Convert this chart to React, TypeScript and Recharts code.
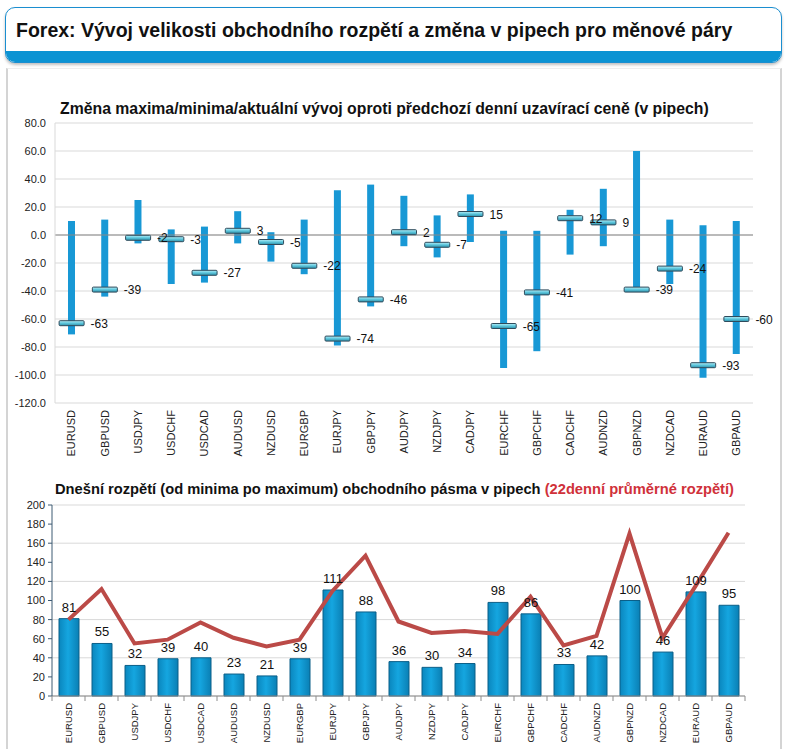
import React from "react";
import {
  ComposedChart,
  Bar,
  Scatter,
  Line,
  XAxis,
  YAxis,
  CartesianGrid,
  ReferenceLine,
  LabelList,
} from "recharts";

const pairs = [
  "EURUSD", "GBPUSD", "USDJPY", "USDCHF", "USDCAD", "AUDUSD", "NZDUSD",
  "EURGBP", "EURJPY", "GBPJPY", "AUDJPY", "NZDJPY", "CADJPY", "EURCHF",
  "GBPCHF", "CADCHF", "AUDNZD", "GBPNZD", "NZDCAD", "EURAUD", "GBPAUD",
];
// change vs previous close (pips)
const maxChange = [10, 11, 25, 4, 6, 17, 2, 11, 32, 36, 28, 14, 29, 3, 3, 18, 33, 60, 11, 7, 10];
const minChange = [-71, -44, -6, -35, -34, -6, -19, -28, -79, -51, -8, -16, -5, -95, -83, -14, -8, -39, -35, -102, -85];
const currentChange = [-63, -39, -2, -3, -27, 3, -5, -22, -74, -46, 2, -7, 15, -65, -41, 12, 9, -39, -24, -93, -60];
// today's range and 22-day average range (pips)
const todayRange = [81, 55, 32, 39, 40, 23, 21, 39, 111, 88, 36, 30, 34, 98, 86, 33, 42, 100, 46, 109, 95];
const avgRange = [80, 112, 55, 59, 77, 61, 52, 59, 110, 147, 78, 66, 68, 65, 104, 53, 63, 170, 61, 115, 171];

const changeTicks = [-120, -100, -80, -60, -40, -20, 0, 20, 40, 60, 80];
const rangeTicks = [0, 20, 40, 60, 80, 100, 120, 140, 160, 180, 200];

const changeData = pairs.map((p, i) => ({
  pair: p,
  range: [minChange[i], maxChange[i]],
  cur: currentChange[i],
}));
const rangeData = pairs.map((p, i) => ({
  pair: p,
  today: todayRange[i],
  avg: avgRange[i],
}));

const FONT = "'Liberation Sans', Arial, sans-serif";

const RotTick = (props: any) => {
  const { x, y, payload, fontSize, band, last, tickMarks } = props;
  return (
    <g>
      {tickMarks && (
        <line x1={x - band / 2} x2={x - band / 2} y1={y - 7} y2={y - 2} stroke="#8c8c8c" />
      )}
      {tickMarks && payload.index === last && (
        <line x1={x + band / 2} x2={x + band / 2} y1={y - 7} y2={y - 2} stroke="#8c8c8c" />
      )}
      <text
        x={x}
        y={y}
        transform={`rotate(-90, ${x}, ${y})`}
        textAnchor="end"
        dy="0.35em"
        fontSize={fontSize}
        fontFamily={FONT}
        fill="#222"
      >
        {payload.value}
      </text>
    </g>
  );
};

const Marker = (props: any) => {
  const { cx, cy } = props;
  if (cx == null || cy == null) return null;
  return (
    <rect
      x={cx - 12.5}
      y={cy - 2.5}
      width={25}
      height={5}
      rx={1}
      fill="url(#markGrad)"
      stroke="#2f4b5c"
      strokeWidth={1}
    />
  );
};

const MarkerLabel = (props: any) => {
  const { cx, cy, payload } = props;
  if (cx == null || cy == null) return null;
  return (
    <text x={cx + 19} y={cy} dy="0.38em" fontSize={12} fontFamily={FONT} fill="#111">
      {payload.cur}
    </text>
  );
};

export default function App() {
  return (
    <div style={{ position: "absolute", left: 0, top: 0, width: 788, height: 749, background: "#fff", fontFamily: FONT, overflow: "hidden" }}>
      {/* header box */}
      <div
        style={{
          position: "absolute",
          left: 5,
          top: 7,
          width: 775,
          height: 54,
          border: "1.5px solid #1a8ed0",
          borderRadius: 10,
          overflow: "hidden",
          background: "#fff",
          boxShadow: "0 2px 3px rgba(0,0,0,0.25)",
        }}
      >
        <div style={{ position: "absolute", left: 0, right: 0, bottom: 0, height: 11, background: "#0b93d3" }} />
        <div style={{ position: "absolute", left: 10, top: 11, fontSize: 19.5, fontWeight: "bold", color: "#111", whiteSpace: "nowrap" }}>
          Forex: Vývoj velikosti obchodního rozpětí a změna v pipech pro měnové páry
        </div>
      </div>
      {/* panel */}
      <div
        style={{
          position: "absolute",
          left: 6,
          top: 68,
          width: 772,
          height: 690,
          borderLeft: "2px solid #d4d4d4",
          borderRight: "2px solid #d4d4d4",
          borderTop: "1px solid #eeeeee",
        }}
      />
      <div style={{ position: "absolute", left: 60, top: 100, fontSize: 15.8, fontWeight: "bold", color: "#111", whiteSpace: "nowrap" }}>
        Změna maxima/minima/aktuální vývoj oproti předchozí denní uzavírací ceně (v pipech)
      </div>
      <div style={{ position: "absolute", left: 55, top: 481, fontSize: 14.7, fontWeight: "bold", color: "#111", whiteSpace: "nowrap" }}>
        Dnešní rozpětí (od minima po maximum) obchodního pásma v pipech{" "}
        <span style={{ color: "#d0313a" }}>(22denní průměrné rozpětí)</span>
      </div>

      <div style={{ position: "absolute", left: 0, top: 0 }}>
        <ComposedChart width={788} height={470} data={changeData} margin={{ top: 123, right: 35, left: 0, bottom: 0 }}>
          <defs>
            <linearGradient id="markGrad" x1="0" y1="0" x2="0" y2="1">
              <stop offset="0%" stopColor="#b8eef7" />
              <stop offset="50%" stopColor="#5cc6dc" />
              <stop offset="100%" stopColor="#2f8fa8" />
            </linearGradient>
          </defs>
          <CartesianGrid vertical={false} stroke="#d9d9d9" />
          <XAxis
            dataKey="pair"
            height={67}
            axisLine={false}
            tickLine={false}
            interval={0}
            tick={<RotTick fontSize={11} band={33.2} />}
            tickMargin={0}
            tickSize={7}
          />
          <YAxis
            width={55}
            domain={[-120, 80]}
            ticks={changeTicks}
            tickFormatter={(v: number) => v.toFixed(1)}
            axisLine={{ stroke: "#d9d9d9" }}
            tickLine={false}
            tickSize={6}
            tickMargin={3}
            tick={{ fontSize: 11, fill: "#222", fontFamily: FONT }}
          />
          <ReferenceLine y={0} stroke="#888" />
          <Bar dataKey="range" barSize={7} fill="#1898d5" isAnimationActive={false} />
          <Scatter dataKey="cur" shape={<Marker />} isAnimationActive={false} />
          <Scatter dataKey="cur" shape={<MarkerLabel />} isAnimationActive={false} />
        </ComposedChart>
      </div>

      <div style={{ position: "absolute", left: 0, top: 470 }}>
        <ComposedChart width={788} height={279} data={rangeData} margin={{ top: 35, right: 43, left: 0, bottom: 0 }}>
          <defs>
            <linearGradient id="barGrad" x1="0" y1="0" x2="1" y2="0">
              <stop offset="0%" stopColor="#0a86bd" />
              <stop offset="45%" stopColor="#15a6e0" />
              <stop offset="100%" stopColor="#0a7fb4" />
            </linearGradient>
          </defs>
          <CartesianGrid vertical={false} stroke="#d9d9d9" />
          <XAxis
            dataKey="pair"
            height={53}
            axisLine={{ stroke: "#8c8c8c" }}
            tickLine={false}
            interval={0}
            tick={<RotTick fontSize={9.5} band={33} last={pairs.length - 1} tickMarks />}
            tickMargin={0}
            tickSize={7}
          />
          <YAxis
            width={52}
            domain={[0, 200]}
            ticks={rangeTicks}
            axisLine={{ stroke: "#3d5a73" }}
            tickLine={{ stroke: "#3d5a73" }}
            tickSize={4}
            tickMargin={3}
            tick={{ fontSize: 11, fill: "#222", fontFamily: FONT }}
          />
          <Bar dataKey="today" barSize={20} fill="url(#barGrad)" stroke="#0b5f88" strokeWidth={1} isAnimationActive={false}>
            <LabelList dataKey="today" position="top" offset={7} fontSize={13} fill="#111" fontFamily={FONT} />
          </Bar>
          <Line dataKey="avg" type="linear" stroke="#bb4a47" strokeWidth={4} dot={false} isAnimationActive={false} />
        </ComposedChart>
      </div>
    </div>
  );
}
